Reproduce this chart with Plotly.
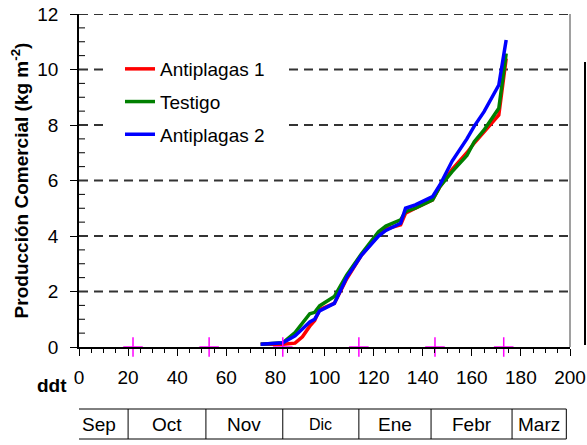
import plotly.graph_objects as go

# ---- data ----
ddt = [74, 83, 88, 91, 94, 96, 98, 104, 109, 115, 122, 125, 131, 133, 137, 144, 147, 152, 158, 161, 165, 171, 174]
antiplagas1 = [0.1, 0.1, 0.14, 0.37, 0.75, 0.95, 1.35, 1.57, 2.45, 3.3, 4.05, 4.25, 4.4, 4.82, 5.0, 5.3, 5.78, 6.4, 7.0, 7.35, 7.75, 8.36, 10.4]
testigo = [0.1, 0.15, 0.52, 0.85, 1.2, 1.25, 1.48, 1.82, 2.59, 3.35, 4.15, 4.36, 4.58, 4.88, 5.0, 5.3, 5.78, 6.32, 6.9, 7.4, 7.82, 8.6, 10.58]
antiplagas2 = [0.1, 0.15, 0.4, 0.65, 0.9, 1.0, 1.3, 1.57, 2.5, 3.3, 4.0, 4.2, 4.46, 5.0, 5.12, 5.42, 5.84, 6.7, 7.5, 7.96, 8.48, 9.44, 11.06]

marker_ddt = [22, 53, 83, 114, 145, 173]
marker_y = [0, 0, 0, 0, 0, 0]

y_ticks = [0, 2, 4, 6, 8, 10, 12]

months = ["Sep", "Oct", "Nov", "Dic", "Ene", "Febr", "Marz"]
month_edges = [-4, 20, 51.7, 83, 114, 143.4, 176.4, 198.5]

FONT = "Liberation Sans, Arial, sans-serif"
FS = 19

fig = go.Figure()
series = [("Antiplagas 1", antiplagas1, "#ff0000"),
          ("Testigo", testigo, "#008000"),
          ("Antiplagas 2", antiplagas2, "#0000ff")]
for name, ys, col in series:
    fig.add_trace(go.Scatter(x=ddt, y=ys, mode="lines", name=name, legendgroup=name,
                             line=dict(color=col, width=3.5)))

fig.add_trace(go.Scatter(x=marker_ddt, y=marker_y, mode="markers", showlegend=False,
                         marker=dict(symbol="cross-thin", size=14, line=dict(color="#ff00ff", width=1.5)),
                         cliponaxis=False))

L, R, T, B = 79, 17, 14, 98
W, H = 587, 445
pw, ph = W - L - R, H - T - B

def px_x(p):
    return (p - L) / pw

def px_y(p):
    return (H - B - p) / ph

shapes = []
# dashed gridlines (below traces)
for yv in y_ticks[1:]:
    shapes.append(dict(type="line", xref="paper", yref="y", x0=0, x1=1, y0=yv, y1=yv,
                       layer="below", line=dict(color="#333333", width=2, dash="9px,6px")))
# white area behind the legend (hides gridlines, below traces)
shapes.append(dict(type="rect", xref="paper", yref="paper", x0=px_x(103), x1=px_x(287),
                   y0=px_y(155), y1=px_y(52), fillcolor="white", line=dict(width=0), layer="below"))
# right spine
shapes.append(dict(type="line", xref="paper", yref="paper", x0=1, x1=1, y0=0, y1=1,
                   line=dict(color="#808080", width=1.5)))
# y minor ticks (inside)
for k in range(1, 24):
    if k % 4 == 0:
        continue
    yv = k * 0.5
    shapes.append(dict(type="line", xref="paper", yref="y", x0=0, x1=6 / pw, y0=yv, y1=yv,
                       line=dict(color="black", width=1)))
# partial bar at far right
shapes.append(dict(type="line", xref="paper", yref="paper", x0=px_x(585), x1=px_x(585),
                   y0=px_y(345), y1=px_y(62), line=dict(color="black", width=2)))
# month table
ty0, ty1 = px_y(439), px_y(409)
shapes.append(dict(type="line", xref="x", yref="paper", x0=month_edges[0], x1=month_edges[-1],
                   y0=ty1, y1=ty1, line=dict(color="black", width=1)))
shapes.append(dict(type="line", xref="x", yref="paper", x0=month_edges[0], x1=month_edges[-1],
                   y0=ty0, y1=ty0, line=dict(color="black", width=1)))
for e in month_edges:
    shapes.append(dict(type="line", xref="x", yref="paper", x0=e, x1=e, y0=ty0, y1=ty1,
                       line=dict(color="black", width=1)))

annotations = []
for i, m in enumerate(months):
    annotations.append(dict(x=(month_edges[i] + month_edges[i + 1]) / 2, y=(ty0 + ty1) / 2,
                            xref="x", yref="paper", text=m, showarrow=False,
                            xanchor="center", yanchor="middle",
                            font=dict(size=16 if m == "Dic" else FS, family=FONT, color="black")))
annotations.append(dict(x=px_x(52), y=px_y(386), xref="paper", yref="paper", text="<b>ddt</b>",
                        showarrow=False, xanchor="center", yanchor="middle",
                        font=dict(size=FS, family=FONT, color="black")))

fig.update_layout(
    width=W, height=H,
    margin=dict(l=L, r=R, t=T, b=B, pad=0, autoexpand=False),
    paper_bgcolor="white", plot_bgcolor="white",
    font=dict(family=FONT, size=FS, color="black"),
    showlegend=True,
    legend=dict(x=px_x(120), y=px_y(50), xanchor="left", yanchor="top",
                bgcolor="rgba(0,0,0,0)", borderwidth=0, traceorder="grouped", tracegroupgap=5,
                font=dict(size=FS, family=FONT, color="black")),
    xaxis=dict(range=[0, 200], dtick=20, tick0=0, automargin=False,
               showgrid=False, zeroline=False, showline=True, linecolor="black", linewidth=1.5,
               ticks="outside", ticklen=7, tickcolor="black", tickwidth=1.2,
               ticklabelstandoff=5,
               minor=dict(dtick=5, ticks="outside", ticklen=4, tickcolor="black", tickwidth=1, showgrid=False),
               tickfont=dict(size=FS, family=FONT, color="black")),
    yaxis=dict(range=[0, 12], tickmode="array", tickvals=y_ticks, automargin=False,
               showgrid=False, zeroline=False, showline=True, linecolor="black", linewidth=1.5,
               ticks="outside", ticklen=7, tickcolor="black", tickwidth=1.2,
               ticklabelstandoff=8,
               tickfont=dict(size=FS, family=FONT, color="black"),
               title=dict(text="<b>Producción Comercial (kg m<sup>-2</sup>)</b>",
                          font=dict(size=19, family=FONT, color="black"), standoff=4)),
    shapes=shapes,
    annotations=annotations,
)

fig.write_html("out.html")
